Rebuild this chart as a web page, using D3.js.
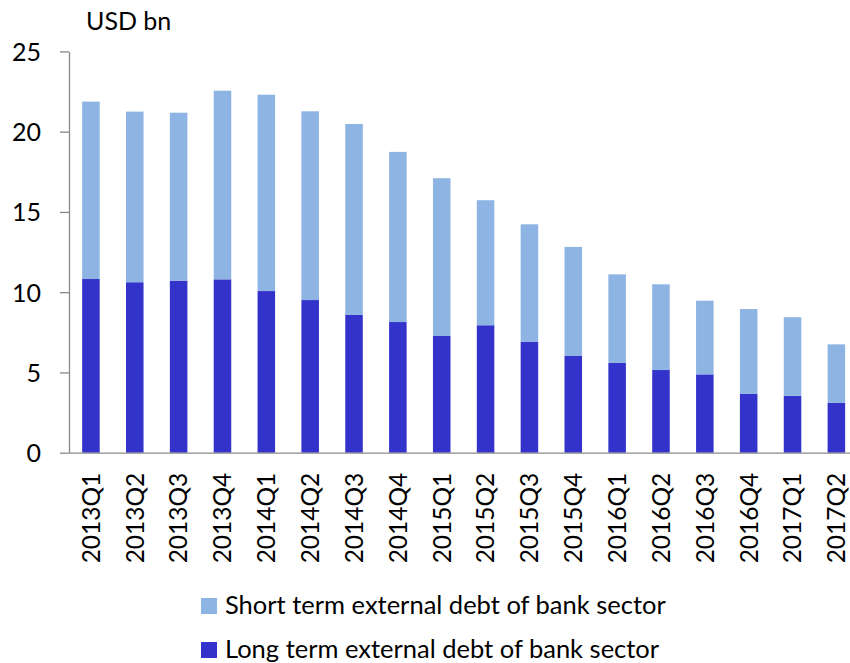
<!DOCTYPE html>
<html>
<head>
<meta charset="utf-8">
<script src="https://cdn.jsdelivr.net/npm/d3@7"></script>
<style>
  body { margin: 0; background: #fff; }
  text { font-family: Lato, "Open Sans", sans-serif; fill: #000; }
</style>
</head>
<body>
<div id="chart"></div>
<script>
// kvartal
const quarters = ["2013Q1","2013Q2","2013Q3","2013Q4","2014Q1","2014Q2","2014Q3","2014Q4",
  "2015Q1","2015Q2","2015Q3","2015Q4","2016Q1","2016Q2","2016Q3","2016Q4","2017Q1","2017Q2"];

// USD bn
const longTerm  = [10.82, 10.62, 10.72, 10.80, 10.07, 9.51, 8.58, 8.14, 7.27, 7.94, 6.92, 6.05, 5.59, 5.15, 4.88, 3.66, 3.55, 3.10];
const shortTerm = [11.05, 10.63, 10.46, 11.75, 12.23, 11.76, 11.90, 10.60, 9.83, 7.79, 7.31, 6.77, 5.52, 5.34, 4.59, 5.29, 4.89, 3.65];

const yTicks = [0, 5, 10, 15, 20, 25];
const seriesNames = ["Short term external debt of bank sector", "Long term external debt of bank sector"];

const width = 850, height = 663;
const colShort = "#8EB4E3", colLong = "#3333CC";

const svg = d3.select("#chart").append("svg")
  .attr("width", width)
  .attr("height", height);

// skalor
const x = d3.scaleBand()
  .domain(quarters)
  .range([69, 69 + 18 * 43.85])
  .paddingInner(0.6)
  .paddingOuter(0.3);

const y = d3.scaleLinear()
  .domain([0, 25])
  .range([452.7, 51.4]);

const rows = quarters.map((q, i) => ({ q, long: longTerm[i], short: shortTerm[i] }));

// staplar: lång först, sedan kort ovanpå
svg.append("g").selectAll("rect.long")
  .data(rows)
  .join("rect")
  .attr("x", d => x(d.q))
  .attr("width", x.bandwidth())
  .attr("y", d => y(d.long))
  .attr("height", d => y(0) - y(d.long))
  .attr("fill", colLong);

svg.append("g").selectAll("rect.short")
  .data(rows)
  .join("rect")
  .attr("x", d => x(d.q))
  .attr("width", x.bandwidth())
  .attr("y", d => y(d.long + d.short))
  .attr("height", d => y(d.long) - y(d.long + d.short))
  .attr("fill", colShort);

// y-axel
const yAxis = svg.append("g")
  .attr("transform", "translate(69,0)")
  .call(d3.axisLeft(y).tickValues(yTicks).tickSize(9).tickSizeOuter(0).tickPadding(19));
yAxis.select(".domain").attr("stroke", "#898989").attr("stroke-width", 1.3);
yAxis.selectAll(".tick line").attr("stroke", "#898989").attr("stroke-width", 1.3);
yAxis.selectAll(".tick text").style("font-size", "25px").attr("dy", "0.36em");

// x-axel
const xAxis = svg.append("g")
  .attr("transform", `translate(0,${y(0)})`)
  .call(d3.axisBottom(x).tickSize(0).tickSizeOuter(0));
xAxis.select(".domain").attr("stroke", "#898989").attr("stroke-width", 1.3);
xAxis.selectAll(".tick text")
  .style("font-size", "24.5px")
  .attr("text-anchor", "end")
  .attr("transform", "rotate(-90)")
  .attr("x", -20)
  .attr("y", 0)
  .attr("dy", "0.36em");

// enhet
svg.append("text")
  .attr("x", 86)
  .attr("y", 30)
  .style("font-size", "25px")
  .text("USD bn");

// legend
const legend = svg.append("g");
[colShort, colLong].forEach((c, i) => {
  legend.append("rect")
    .attr("x", 201)
    .attr("y", 598 + i * 44)
    .attr("width", 16)
    .attr("height", 16)
    .attr("fill", c);
  legend.append("text")
    .attr("x", 225)
    .attr("y", 614 + i * 44)
    .style("font-size", "25.5px")
    .text(seriesNames[i]);
});
</script>
</body>
</html>
